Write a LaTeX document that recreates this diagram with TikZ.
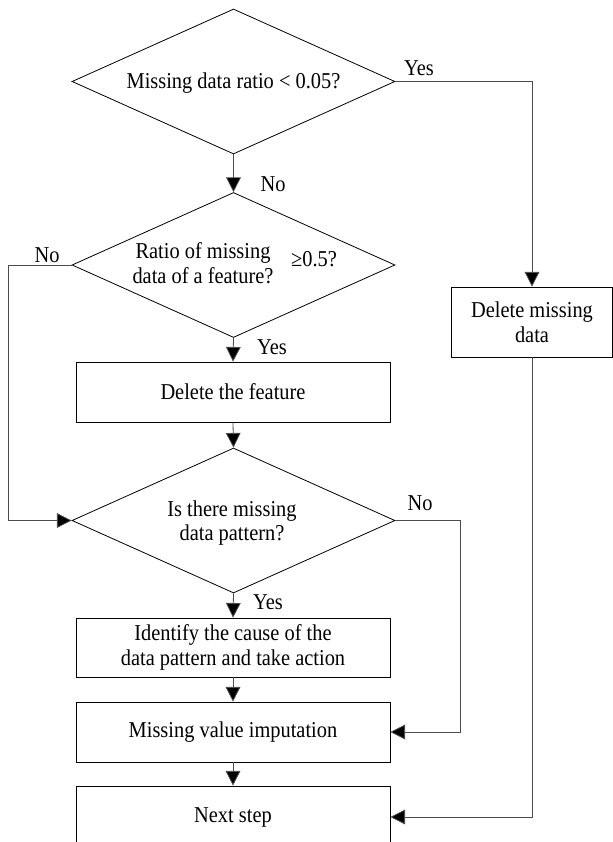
\documentclass[tikz,border=0pt]{standalone}
\usepackage{fontspec}
\setmainfont{Liberation Serif}[FakeStretch=0.9]
\usetikzlibrary{shapes.geometric,arrows.meta}
\begin{document}
\begin{tikzpicture}[x=0.75pt,y=-0.75pt,
  every node/.style={font=\fontsize{17}{18.5}\selectfont},
  decision/.style={draw, diamond, inner sep=0pt, minimum width=242.25pt,
    minimum height=108.75pt, line width=0.6pt},
  stepbox/.style={draw, rectangle, inner sep=0pt, minimum width=235.5pt,
    line width=0.6pt, align=center},
  txt/.style={inner sep=0pt, align=center},
  link/.style={draw=black!70, line width=0.6pt},
  arr/.style={link, -{Triangle[length=11pt,width=11pt,fill=black]}}]

\useasboundingbox (0,0) rectangle (613,842);
\clip (0,0) rectangle (613,842);

% decisions
\node[decision] (d1) at (233.5,81.5) {};
\node[txt] (t1) at (233.5,83) {Missing data ratio < 0.05?};
\node[decision] (d2) at (233.5,265) {};
\node[txt] (t2) at (203,263) {Ratio of missing\\data of a feature?};
\node[txt] (t2b) at (314,259) {≥0.5?};
\node[decision] (d3) at (233.5,520.5) {};
\node[txt] (t3) at (232,523) {Is there missing\\data pattern?};

% process steps
\node[stepbox, minimum height=45pt] (b1) at (233,392) {Delete the feature};
\node[stepbox, minimum height=44.25pt] (b2) at (233,647.5)
  {Identify the cause of the\\data pattern and take action};
\node[stepbox, minimum height=45pt] (b3) at (233,732) {Missing value imputation};
\node[stepbox, minimum height=46.5pt] (b4) at (233,817) {Next step};
\node[stepbox, minimum width=120.75pt, minimum height=52.5pt] (rb) at (532,322)
  {Delete missing\\data};

% branch labels
\node[txt] (y1) at (419,68) {Yes};
\node[txt] (n1) at (273,184) {No};
\node[txt] (n2) at (47,255) {No};
\node[txt] (y2) at (272,347) {Yes};
\node[txt] (n3) at (420,503) {No};
\node[txt] (y3) at (268,602) {Yes};

% bend points of the side paths
\coordinate (lft) at (8,265);
\coordinate (rgt) at (460,520.5);

% main column
\draw[arr] (d1.south) -- (d2.north);
\draw[arr] (d2.south) -- (b1.north);
\draw[arr] (b1.south) -- (d3.north);
\draw[arr] (d3.south) -- (b2.north);
\draw[arr] (b2.south) -- (b3.north);
\draw[arr] (b3.south) -- (b4.north);

% side paths
\draw[arr] (d1.east) -| (rb.north);
\draw[arr] (rb.south) |- (b4.east);
\draw[arr] (d2.west) -- (lft) |- (d3.west);
\draw[arr] (d3.east) -- (rgt) |- (b3.east);
\end{tikzpicture}
\end{document}
